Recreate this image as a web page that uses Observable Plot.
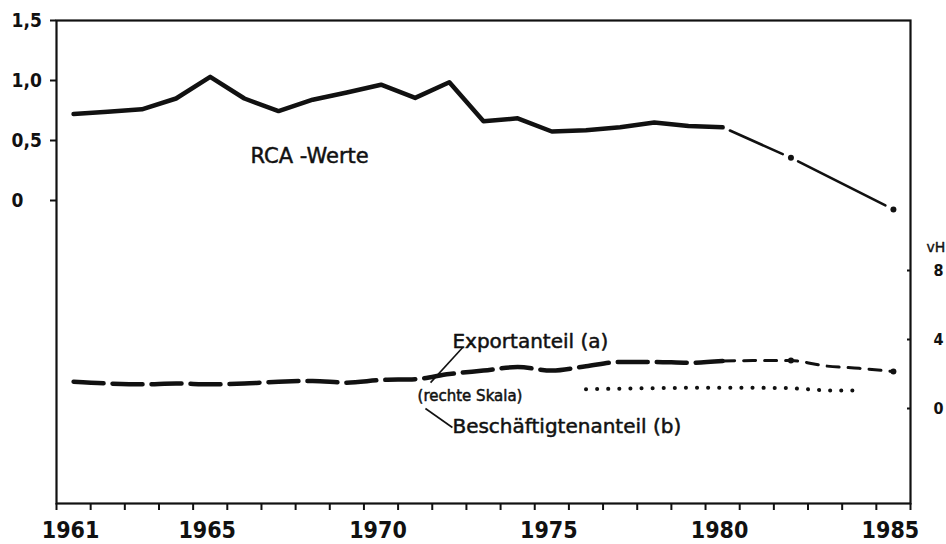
<!DOCTYPE html>
<html><head><meta charset="utf-8">
<script src="https://cdn.jsdelivr.net/npm/d3@7"></script>
<script src="https://cdn.jsdelivr.net/npm/@observablehq/plot@0.6"></script>
<style>
html,body{margin:0;padding:0;background:#fff;}
#chart svg{display:block;}
</style></head><body><div id="chart"></div>
<script>
// ---- data ----
const years = [1961,1962,1963,1964,1965,1966,1967,1968,1969,1970,1971,1972,1973,1974,1975,1976,1977,1978,1979,1980,1981,1982,1983,1984,1985];
const xTickLabels = [1961,1965,1970,1975,1980,1985];
const leftTicks = [0, 0.5, 1, 1.5];
const leftTickLabels = ["0", "0,5", "1,0", "1,5"];
const rightTicks = [0, 4, 8];

// RCA-Werte (left scale)
const rcaYears = [1961,1962,1963,1964,1965,1966,1967,1968,1969,1970,1971,1972,1973,1974,1975,1976,1977,1978,1979,1980];
const rcaValues = [0.72,0.74,0.76,0.85,1.03,0.85,0.745,0.84,0.90,0.965,0.855,0.985,0.66,0.685,0.575,0.585,0.61,0.65,0.62,0.61];
const rcaProjYears = [1980,1982,1985];
const rcaProjValues = [0.61,0.356,-0.075];

// Exportanteil (right scale, vH)
const exportYears = [1961,1962,1963,1964,1965,1966,1967,1968,1969,1970,1971,1972,1973,1974,1975,1976,1977,1978,1979,1980];
const exportValues = [1.55,1.45,1.4,1.45,1.4,1.45,1.55,1.6,1.5,1.65,1.7,2.0,2.2,2.4,2.2,2.45,2.7,2.7,2.65,2.75];
const exportProjYears = [1980,1981,1982,1983,1984,1985];
const exportProjValues = [2.75,2.78,2.78,2.47,2.33,2.14];
const exportMarkYears = [1982,1985];

// Beschäftigtenanteil (right scale, vH)
const empYears = [1976,1977,1978,1979,1980,1981,1982,1983,1984];
const empValues = [1.12,1.15,1.18,1.2,1.2,1.2,1.18,1.05,1.05];

// annotations (year, right-scale value)
const labelTexts = ["Exportanteil (a)", "(rechte Skala)", "Beschäftigtenanteil (b)"];
const labelYears = [1972.09, 1971.07, 1972.09];
const labelValues = [3.85, 0.70, -1.02];
const labelSizes = [20, 15, 20];
const leaderFrom = [[1972.39, 3.54], [1971.30, 0.0]];
const leaderTo = [[1971.45, 1.5], [1972.09, -1.1]];
const rcaLabel = {text: "RCA -Werte", year: 1966.18, value: 0.3725};
const unitLabel = {text: "vH", year: 1985.5, value: 9.35};

// ---- scales ----
const X_DOMAIN = [1960.5, 1985.5];
const LEFT_DOMAIN = [-2.525, 1.5];
const RIGHT_DOMAIN = [-5.507, 22.493];
const toLeft = d3.scaleLinear().domain(RIGHT_DOMAIN).range(LEFT_DOMAIN);
const fromLeft = toLeft.invert;

const rca = rcaYears.map((year, i) => ({year, value: rcaValues[i]}));
const rcaProj = rcaProjYears.map((year, i) => ({year, value: rcaProjValues[i]}));
const rcaSegs = d3.pairs(rcaProj).map(([a, b]) => ({x1: a.year, y1: a.value, x2: b.year, y2: b.value}));
const exp = exportYears.map((year, i) => ({year, value: toLeft(exportValues[i])}));
const expProj = exportProjYears.map((year, i) => ({year, value: toLeft(exportProjValues[i])}));
const expMarks = expProj.filter(d => exportMarkYears.includes(d.year));
const emp = empYears.map((year, i) => ({year, value: toLeft(empValues[i])}));
const labels = labelTexts.map((text, i) => ({text, year: labelYears[i], value: toLeft(labelValues[i]), size: labelSizes[i]}));
const leaders = leaderFrom.map((f, i) => ({x1: f[0], y1: toLeft(f[1]), x2: leaderTo[i][0], y2: toLeft(leaderTo[i][1])}));
const boundaries = [...years.map(y => y - 0.5), years[years.length - 1] + 0.5];

const digitFont = "'DejaVu Sans Condensed', sans-serif";
const textFont = "'DejaVu Sans', sans-serif";

const chart = Plot.plot({
  width: 946,
  height: 544,
  marginLeft: 56,
  marginRight: 36,
  marginTop: 20,
  marginBottom: 41,
  style: {background: "white", color: "#111", fontFamily: textFont},
  x: {domain: X_DOMAIN, axis: null},
  y: {domain: LEFT_DOMAIN, axis: null},
  marks: [
    Plot.frame({stroke: "#111", strokeWidth: 2.2}),
    // left axis
    Plot.axisY(leftTicks, {anchor: "left", tickSize: 6, tickPadding: 39, textAnchor: "start",
      tickFormat: d => leftTickLabels[leftTicks.indexOf(d)],
      fontFamily: digitFont, fontSize: 19, fontWeight: "bold", strokeWidth: 2, stroke: "#111"}),
    // right axis
    Plot.axisY(rightTicks.map(toLeft), {anchor: "right", tickSize: 4, dx: -4, tickPadding: 23,
      tickFormat: d => String(Math.round(fromLeft(d))),
      fontFamily: digitFont, fontSize: 16, fontWeight: "bold", strokeWidth: 2, stroke: "#111"}),
    // bottom ticks at year boundaries
    Plot.axisX(boundaries, {anchor: "bottom", tickSize: 7, tickFormat: () => "", strokeWidth: 2, stroke: "#111"}),
    // bottom labels
    Plot.axisX(xTickLabels, {anchor: "bottom", tickSize: 0, tickPadding: 18, dx: -3,
      tickFormat: d => String(d), fontFamily: digitFont, fontSize: 23, fontWeight: "bold"}),
    // RCA
    Plot.line(rca, {x: "year", y: "value", stroke: "#111", strokeWidth: 4.5, strokeLinejoin: "round", strokeLinecap: "round"}),
    Plot.arrow(rcaSegs, {x1: "x1", y1: "y1", x2: "x2", y2: "y2", headLength: 0, insetStart: 8, insetEnd: 9, stroke: "#111", strokeWidth: 2.6}),
    Plot.dot(rcaProj.slice(1), {x: "year", y: "value", r: 3, fill: "#111"}),
    // Exportanteil
    Plot.line(exp, {x: "year", y: "value", stroke: "#111", strokeWidth: 4.5, strokeDasharray: "30,9", curve: "monotone-x"}),
    Plot.line(expProj, {x: "year", y: "value", stroke: "#111", strokeWidth: 3, strokeDasharray: "12,9", curve: "monotone-x"}),
    Plot.dot(expMarks, {x: "year", y: "value", r: 3, fill: "#111"}),
    // Beschäftigtenanteil
    Plot.line(emp, {x: "year", y: "value", stroke: "#111", strokeWidth: 4, strokeDasharray: "0.1,11", strokeLinecap: "round"}),
    // annotations
    Plot.link(leaders, {x1: "x1", y1: "y1", x2: "x2", y2: "y2", stroke: "#111", strokeWidth: 1.6}),
    Plot.text(labels, {x: "year", y: "value", text: "text", fontSize: "size", textAnchor: "start",
      fontFamily: textFont, fill: "#111", stroke: "#111", strokeWidth: 0.5}),
    Plot.text([rcaLabel], {x: "year", y: "value", text: "text", fontSize: 21, textAnchor: "start",
      fontFamily: textFont, fill: "#111", stroke: "#111", strokeWidth: 0.5}),
    Plot.text([unitLabel], {x: "year", y: d => toLeft(d.value), text: "text", fontSize: 14, textAnchor: "start", dx: 16,
      fontFamily: textFont, fill: "#111", stroke: "#111", strokeWidth: 0.4})
  ]
});
document.getElementById("chart").appendChild(chart);
</script></body></html>
